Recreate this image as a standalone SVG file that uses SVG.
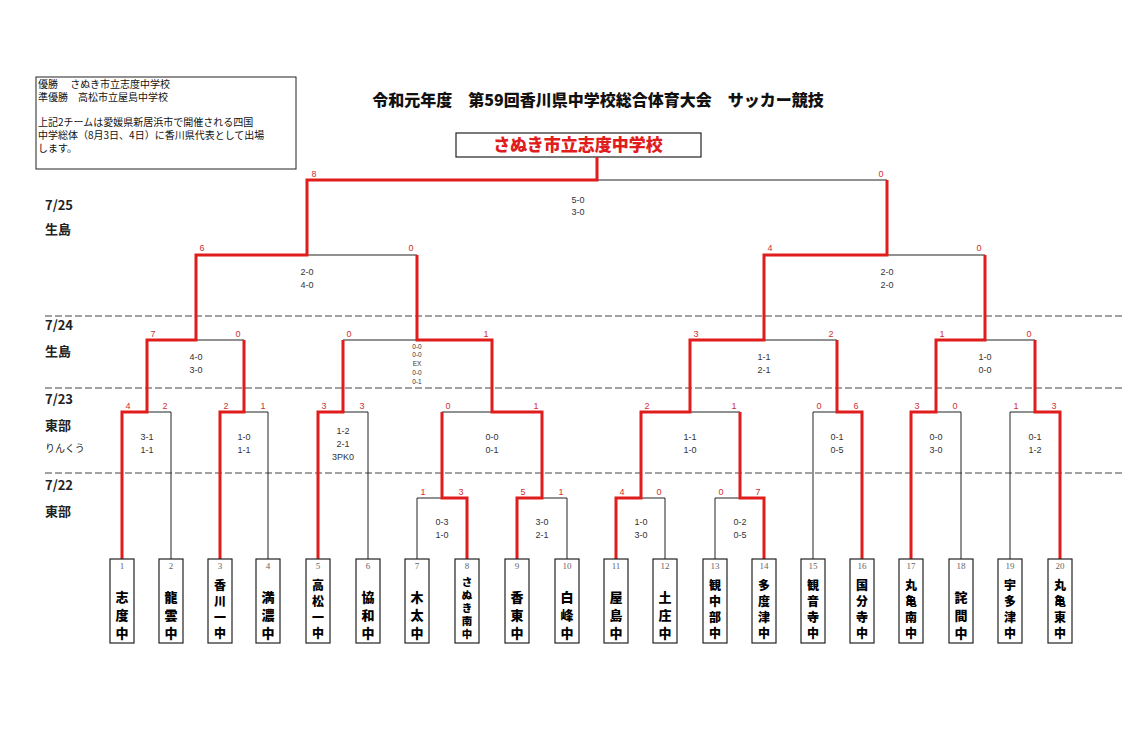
<svg xmlns="http://www.w3.org/2000/svg" width="1145" height="740" viewBox="0 0 1145 740">
<style>
text{font-family:"Noto Sans CJK JP","Liberation Sans",sans-serif}
.bk{fill:none;stroke:#222;stroke-width:1}
.rd{fill:none;stroke:#e01c1c;stroke-width:3;stroke-linejoin:miter}
.ds{stroke:#444;stroke-width:1;stroke-dasharray:7,3}
.sc{font-size:9px;fill:#d03030;text-anchor:middle;font-family:"Liberation Sans",sans-serif}
.rs{font-size:9px;fill:#333;text-anchor:middle;font-family:"Liberation Sans",sans-serif}
.rt{font-size:6.5px;fill:#333;text-anchor:middle;font-family:"Liberation Sans",sans-serif}
.lb{font-size:13px;fill:#222;font-weight:bold}
.tb{fill:#fff;stroke:#222;stroke-width:1.2}
.tn{font-size:9px;fill:#666;text-anchor:middle;font-family:"Liberation Serif",serif}
.nm{font-size:13px;font-weight:900;fill:#000;text-anchor:middle}
.n4{font-size:12px}
.n5{font-size:10.5px}
.note{font-size:10px;fill:#111}
</style>
<rect width="1145" height="740" fill="#fff"/>
<g id="info">
<rect x="36" y="77" width="260" height="92" fill="none" stroke="#222"/>
<text class="note" x="38" y="88">優勝　 さぬき市立志度中学校</text>
<text class="note" x="38" y="101">準優勝　高松市立屋島中学校</text>
<text class="note" x="38" y="126">上記2チームは愛媛県新居浜市で開催される四国</text>
<text class="note" x="38" y="139">中学総体（8月3日、4日）に香川県代表として出場</text>
<text class="note" x="38" y="152">します。</text>
</g>
<text x="598" y="106" font-size="16" font-weight="900" text-anchor="middle" fill="#111">令和元年度　第59回香川県中学校総合体育大会　サッカー競技</text>
<g id="champion">
<rect x="456" y="133" width="245" height="24" fill="#fff" stroke="#222" stroke-width="1.2"/>
<text x="578" y="151" font-size="17" font-weight="900" text-anchor="middle" fill="#e01c1c">さぬき市立志度中学校</text>
</g>
<g id="days">
<line class="ds" x1="45" y1="316" x2="1122" y2="316"/>
<line class="ds" x1="45" y1="388" x2="1122" y2="388"/>
<line class="ds" x1="45" y1="473" x2="1122" y2="473"/>
<text class="lb" x="45" y="210">7/25</text><text class="lb" x="45" y="234">生島</text>
<text class="lb" x="45" y="330">7/24</text><text class="lb" x="45" y="356">生島</text>
<text class="lb" x="45" y="404">7/23</text><text class="lb" x="45" y="430">東部</text>
<text x="45" y="452" font-size="10" fill="#222">りんくう</text>
<text class="lb" x="45" y="490">7/22</text><text class="lb" x="45" y="516">東部</text>
</g>
<g id="connectors">
<path class="bk" d="M307 180H887M196 255H417M764 255H985M147 340H244M343 340H492M690 340H837M936 340H1035M122 412H171M220 412H268M318 412H368M442 412H542M641 412H740M813 412H862M911 412H961M1010 412H1060M417 498H467M517 498H567M616 498H665M715 498H764"/>
<path class="bk" d="M171 559V412M268 559V412M368 559V412M417 559V498M567 559V498M665 559V498M715 559V498M813 559V412M961 559V412M1010 559V412"/>
<path class="rd" d="M122 559V412H147V340H196V255H307V180H597V157"/>
<path class="rd" d="M220 559V412H244V340"/>
<path class="rd" d="M318 559V412H343V340"/>
<path class="rd" d="M467 559V498H442V412"/>
<path class="rd" d="M517 559V498H542V412H492V340H417V255"/>
<path class="rd" d="M616 559V498H641V412H690V340H764V255H887V180"/>
<path class="rd" d="M764 559V498H740V412"/>
<path class="rd" d="M862 559V412H837V340"/>
<path class="rd" d="M911 559V412H936V340H985V255"/>
<path class="rd" d="M1060 559V412H1035V340"/>
</g>
<g id="scores">
<text class="sc" x="314" y="177">8</text><text class="sc" x="881" y="177">0</text>
<text class="sc" x="202" y="251">6</text><text class="sc" x="411" y="251">0</text>
<text class="sc" x="770" y="251">4</text><text class="sc" x="979" y="251">0</text>
<text class="sc" x="153" y="337">7</text><text class="sc" x="238" y="337">0</text>
<text class="sc" x="349" y="337">0</text><text class="sc" x="486" y="337">1</text>
<text class="sc" x="696" y="337">3</text><text class="sc" x="831" y="337">2</text>
<text class="sc" x="942" y="337">1</text><text class="sc" x="1029" y="337">0</text>
<text class="sc" x="128" y="409">4</text><text class="sc" x="165" y="409">2</text>
<text class="sc" x="226" y="409">2</text><text class="sc" x="263" y="409">1</text>
<text class="sc" x="324" y="409">3</text><text class="sc" x="362" y="409">3</text>
<text class="sc" x="448" y="409">0</text><text class="sc" x="536" y="409">1</text>
<text class="sc" x="647" y="409">2</text><text class="sc" x="734" y="409">1</text>
<text class="sc" x="819" y="409">0</text><text class="sc" x="856" y="409">6</text>
<text class="sc" x="917" y="409">3</text><text class="sc" x="955" y="409">0</text>
<text class="sc" x="1016" y="409">1</text><text class="sc" x="1054" y="409">3</text>
<text class="sc" x="423" y="495">1</text><text class="sc" x="461" y="495">3</text>
<text class="sc" x="523" y="495">5</text><text class="sc" x="561" y="495">1</text>
<text class="sc" x="622" y="495">4</text><text class="sc" x="659" y="495">0</text>
<text class="sc" x="721" y="495">0</text><text class="sc" x="758" y="495">7</text>
</g>
<g id="results">
<text class="rs" x="578" y="203">5-0</text><text class="rs" x="578" y="215">3-0</text>
<text class="rs" x="307" y="275">2-0</text><text class="rs" x="307" y="288">4-0</text>
<text class="rs" x="887" y="275">2-0</text><text class="rs" x="887" y="288">2-0</text>
<text class="rs" x="196" y="360">4-0</text><text class="rs" x="196" y="373">3-0</text>
<text class="rt" x="417" y="349">0-0</text><text class="rt" x="417" y="357">0-0</text><text class="rt" x="417" y="366">EX</text><text class="rt" x="417" y="375">0-0</text><text class="rt" x="417" y="384">0-1</text>
<text class="rs" x="764" y="360">1-1</text><text class="rs" x="764" y="373">2-1</text>
<text class="rs" x="985" y="360">1-0</text><text class="rs" x="985" y="373">0-0</text>
<text class="rs" x="147" y="440">3-1</text><text class="rs" x="147" y="453">1-1</text>
<text class="rs" x="244" y="440">1-0</text><text class="rs" x="244" y="453">1-1</text>
<text class="rs" x="343" y="434">1-2</text><text class="rs" x="343" y="447">2-1</text><text class="rs" x="343" y="460">3PK0</text>
<text class="rs" x="492" y="440">0-0</text><text class="rs" x="492" y="453">0-1</text>
<text class="rs" x="690" y="440">1-1</text><text class="rs" x="690" y="453">1-0</text>
<text class="rs" x="837" y="440">0-1</text><text class="rs" x="837" y="453">0-5</text>
<text class="rs" x="936" y="440">0-0</text><text class="rs" x="936" y="453">3-0</text>
<text class="rs" x="1035" y="440">0-1</text><text class="rs" x="1035" y="453">1-2</text>
<text class="rs" x="442" y="525">0-3</text><text class="rs" x="442" y="538">1-0</text>
<text class="rs" x="542" y="525">3-0</text><text class="rs" x="542" y="538">2-1</text>
<text class="rs" x="641" y="525">1-0</text><text class="rs" x="641" y="538">3-0</text>
<text class="rs" x="740" y="525">0-2</text><text class="rs" x="740" y="538">0-5</text>
</g>
<g id="t1"><rect class="tb" x="110" y="559" width="24" height="84"/><text class="tn" x="122" y="569">1</text><text class="nm"><tspan x="122" y="602">志</tspan><tspan x="122" y="620">度</tspan><tspan x="122" y="638">中</tspan></text></g>
<g id="t2"><rect class="tb" x="159" y="559" width="24" height="84"/><text class="tn" x="171" y="569">2</text><text class="nm"><tspan x="171" y="602">龍</tspan><tspan x="171" y="620">雲</tspan><tspan x="171" y="638">中</tspan></text></g>
<g id="t3"><rect class="tb" x="208" y="559" width="24" height="84"/><text class="tn" x="220" y="569">3</text><text class="nm n4"><tspan x="220" y="590">香</tspan><tspan x="220" y="606">川</tspan><tspan x="220" y="622">一</tspan><tspan x="220" y="638">中</tspan></text></g>
<g id="t4"><rect class="tb" x="256" y="559" width="24" height="84"/><text class="tn" x="268" y="569">4</text><text class="nm"><tspan x="268" y="602">満</tspan><tspan x="268" y="620">濃</tspan><tspan x="268" y="638">中</tspan></text></g>
<g id="t5"><rect class="tb" x="306" y="559" width="24" height="84"/><text class="tn" x="318" y="569">5</text><text class="nm n4"><tspan x="318" y="590">高</tspan><tspan x="318" y="606">松</tspan><tspan x="318" y="622">一</tspan><tspan x="318" y="638">中</tspan></text></g>
<g id="t6"><rect class="tb" x="356" y="559" width="24" height="84"/><text class="tn" x="368" y="569">6</text><text class="nm"><tspan x="368" y="602">協</tspan><tspan x="368" y="620">和</tspan><tspan x="368" y="638">中</tspan></text></g>
<g id="t7"><rect class="tb" x="405" y="559" width="24" height="84"/><text class="tn" x="417" y="569">7</text><text class="nm"><tspan x="417" y="602">木</tspan><tspan x="417" y="620">太</tspan><tspan x="417" y="638">中</tspan></text></g>
<g id="t8"><rect class="tb" x="455" y="559" width="24" height="84"/><text class="tn" x="467" y="569">8</text><text class="nm n5"><tspan x="467" y="586">さ</tspan><tspan x="467" y="599">ぬ</tspan><tspan x="467" y="612">き</tspan><tspan x="467" y="625">南</tspan><tspan x="467" y="638">中</tspan></text></g>
<g id="t9"><rect class="tb" x="505" y="559" width="24" height="84"/><text class="tn" x="517" y="569">9</text><text class="nm"><tspan x="517" y="602">香</tspan><tspan x="517" y="620">東</tspan><tspan x="517" y="638">中</tspan></text></g>
<g id="t10"><rect class="tb" x="555" y="559" width="24" height="84"/><text class="tn" x="567" y="569">10</text><text class="nm"><tspan x="567" y="602">白</tspan><tspan x="567" y="620">峰</tspan><tspan x="567" y="638">中</tspan></text></g>
<g id="t11"><rect class="tb" x="604" y="559" width="24" height="84"/><text class="tn" x="616" y="569">11</text><text class="nm"><tspan x="616" y="602">屋</tspan><tspan x="616" y="620">島</tspan><tspan x="616" y="638">中</tspan></text></g>
<g id="t12"><rect class="tb" x="653" y="559" width="24" height="84"/><text class="tn" x="665" y="569">12</text><text class="nm"><tspan x="665" y="602">土</tspan><tspan x="665" y="620">庄</tspan><tspan x="665" y="638">中</tspan></text></g>
<g id="t13"><rect class="tb" x="703" y="559" width="24" height="84"/><text class="tn" x="715" y="569">13</text><text class="nm n4"><tspan x="715" y="590">観</tspan><tspan x="715" y="606">中</tspan><tspan x="715" y="622">部</tspan><tspan x="715" y="638">中</tspan></text></g>
<g id="t14"><rect class="tb" x="752" y="559" width="24" height="84"/><text class="tn" x="764" y="569">14</text><text class="nm n4"><tspan x="764" y="590">多</tspan><tspan x="764" y="606">度</tspan><tspan x="764" y="622">津</tspan><tspan x="764" y="638">中</tspan></text></g>
<g id="t15"><rect class="tb" x="801" y="559" width="24" height="84"/><text class="tn" x="813" y="569">15</text><text class="nm n4"><tspan x="813" y="590">観</tspan><tspan x="813" y="606">音</tspan><tspan x="813" y="622">寺</tspan><tspan x="813" y="638">中</tspan></text></g>
<g id="t16"><rect class="tb" x="850" y="559" width="24" height="84"/><text class="tn" x="862" y="569">16</text><text class="nm n4"><tspan x="862" y="590">国</tspan><tspan x="862" y="606">分</tspan><tspan x="862" y="622">寺</tspan><tspan x="862" y="638">中</tspan></text></g>
<g id="t17"><rect class="tb" x="899" y="559" width="24" height="84"/><text class="tn" x="911" y="569">17</text><text class="nm n4"><tspan x="911" y="590">丸</tspan><tspan x="911" y="606">亀</tspan><tspan x="911" y="622">南</tspan><tspan x="911" y="638">中</tspan></text></g>
<g id="t18"><rect class="tb" x="949" y="559" width="24" height="84"/><text class="tn" x="961" y="569">18</text><text class="nm"><tspan x="961" y="602">詫</tspan><tspan x="961" y="620">間</tspan><tspan x="961" y="638">中</tspan></text></g>
<g id="t19"><rect class="tb" x="998" y="559" width="24" height="84"/><text class="tn" x="1010" y="569">19</text><text class="nm n4"><tspan x="1010" y="590">宇</tspan><tspan x="1010" y="606">多</tspan><tspan x="1010" y="622">津</tspan><tspan x="1010" y="638">中</tspan></text></g>
<g id="t20"><rect class="tb" x="1048" y="559" width="24" height="84"/><text class="tn" x="1060" y="569">20</text><text class="nm n4"><tspan x="1060" y="590">丸</tspan><tspan x="1060" y="606">亀</tspan><tspan x="1060" y="622">東</tspan><tspan x="1060" y="638">中</tspan></text></g>
</svg>
